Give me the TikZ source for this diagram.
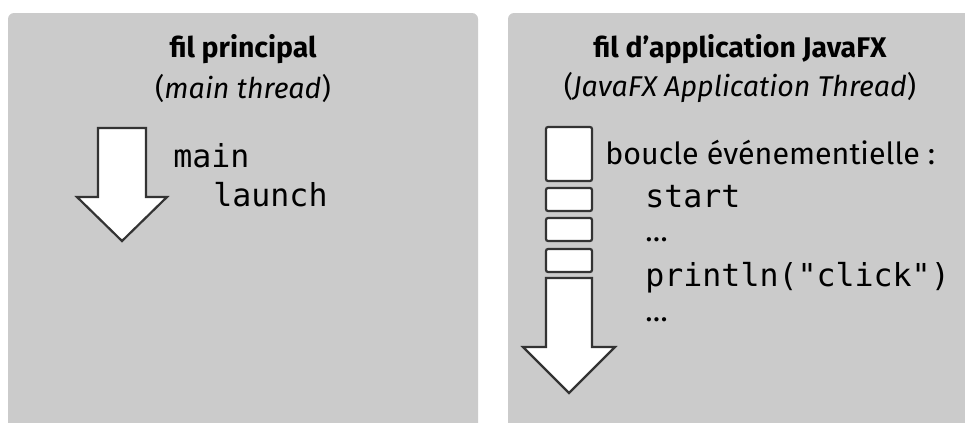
\documentclass[tikz,border=0pt]{standalone}
\usepackage{fontspec}
\setmainfont{Fira Sans}
\setmonofont{DejaVu Sans Mono}
\usetikzlibrary{calc}
\definecolor{panelgray}{RGB}{203,203,203}
\definecolor{edgegray}{RGB}{51,51,51}

\tikzset{
  panel/.style={fill=panelgray,rounded corners=3pt},
  blockarrow/.style={draw=edgegray,fill=white,line width=1.1pt,line join=miter},
  evbox/.style={draw=edgegray,fill=white,line width=1.1pt,rounded corners=1},
  titletext/.style={font=\fontsize{14.2}{16}\selectfont\bfseries},
  subtext/.style={font=\fontsize{14.3}{16}\selectfont},
  codetext/.style={font=\fontsize{15.8}{18}\selectfont\ttfamily,anchor=west,inner sep=0pt},
  plaintext/.style={font=\fontsize{15.2}{17}\selectfont,anchor=west,inner sep=0pt}
}

\begin{document}
\begin{tikzpicture}[x=0.5pt,y=-0.5pt]
\useasboundingbox (0,0) rectangle (965,423);
\clip (0,0) rectangle (965,423);

% panels
\fill[panel] (8,13) rectangle (478,440);
\fill[panel] (508,13) rectangle (985,440);

% fil principal
\node[titletext] (maintitle) at (243,49) {fil principal};
\node[subtext] (mainsub) at (243,88) {(\textit{main thread})};

\coordinate (a) at (122,128);
\draw[blockarrow] ($(a)+(-24,0)$) -- ($(a)+(24,0)$) -- ($(a)+(24,69)$) -- ($(a)+(45,69)$)
  -- ($(a)+(0,113)$) -- ($(a)+(-45,69)$) -- ($(a)+(-24,69)$) -- cycle;

\node[codetext] (main) at (173,156) {main};
\node[codetext] (launch) at (213,195) {launch};

% fil JavaFX
\node[titletext] (fxtitle) at (740,49) {fil d’application JavaFX};
\node[subtext] (fxsub) at (740,88) {(\textit{JavaFX Application Thread})};

\draw[evbox] (546,127) rectangle (592,181);
\draw[evbox] (546,188) rectangle (592,211);
\draw[evbox] (546,218) rectangle (592,241);
\draw[evbox] (546,249) rectangle (592,272);

\coordinate (b) at (569,278);
\draw[blockarrow] ($(b)+(-23,0)$) -- ($(b)+(23,0)$) -- ($(b)+(23,69)$) -- ($(b)+(46,69)$)
  -- ($(b)+(0,115)$) -- ($(b)+(-46,69)$) -- ($(b)+(-23,69)$) -- cycle;

\node[plaintext] (loop) at (605,153) {boucle événementielle :};
\node[codetext] (start) at (645,197) {start};
\node[plaintext] (dots1) at (645,240) {…};
\node[codetext] (click) at (645,278) {println("click")};
\node[plaintext] (dots2) at (645,320) {…};

\end{tikzpicture}
\end{document}
